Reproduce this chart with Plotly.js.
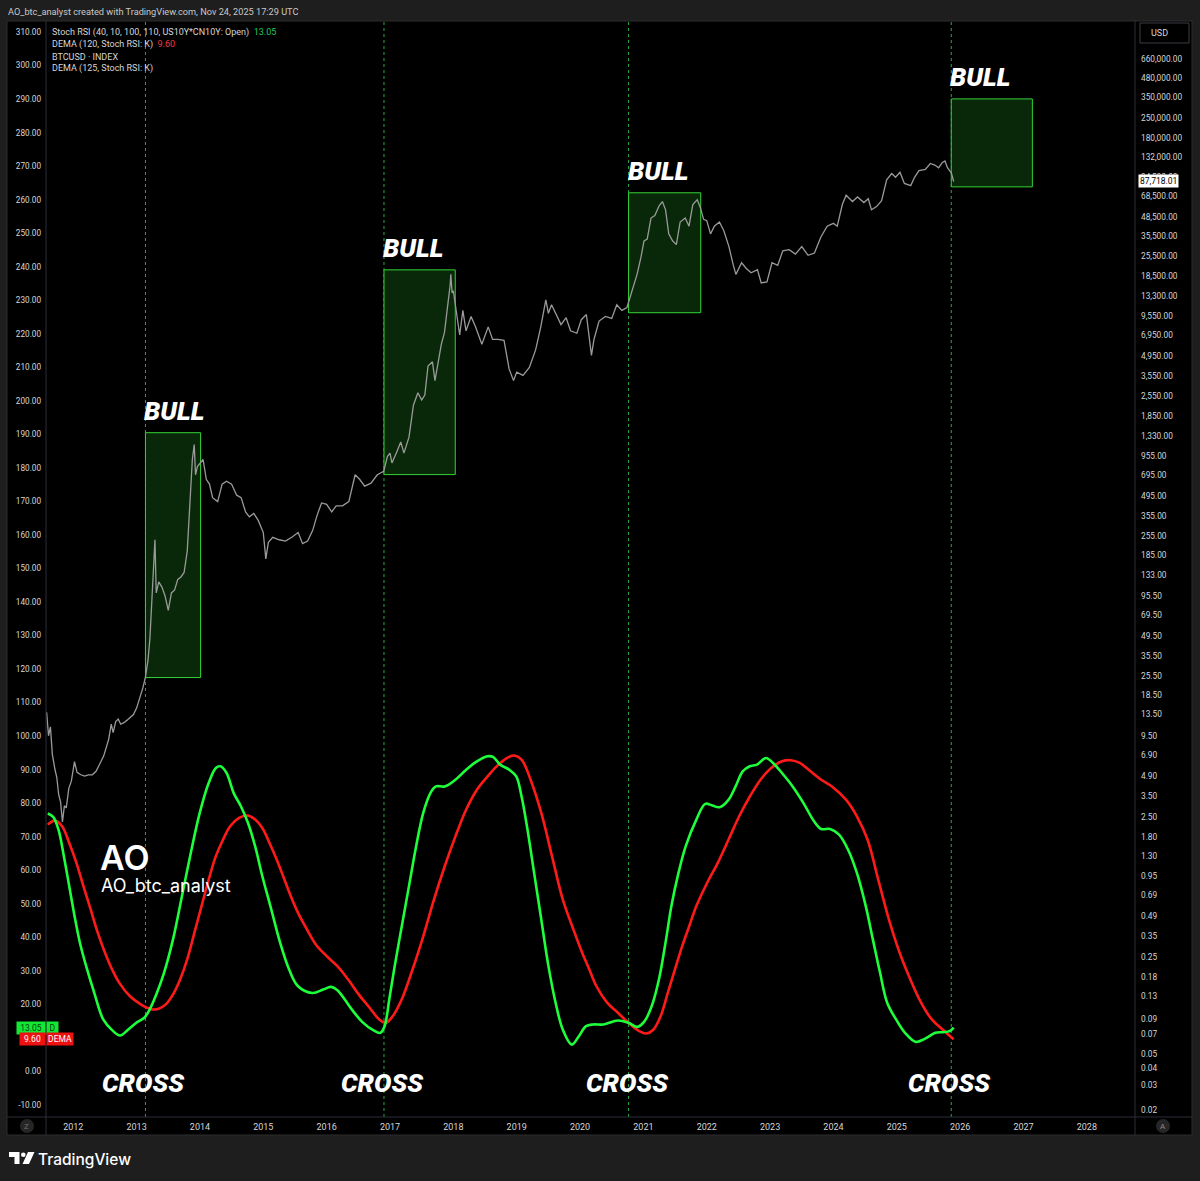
<!DOCTYPE html>
<html>
<head>
<meta charset="utf-8">
<script src="https://cdn.plot.ly/plotly-3.0.1.min.js"></script>
<style>
html,body{margin:0;padding:0;background:#1e1e1e;}
#chart{width:1200px;height:1181px;}
</style>
</head>
<body>
<div id="chart"></div>
<script>
// ---------------- DATA ----------------
const priceDates = [2011.58,2011.61,2011.64,2011.67,2011.71,2011.74,2011.77,2011.80,2011.83,2011.86,2011.89,2011.93,2011.97,
2012.02,2012.06,2012.12,2012.18,2012.24,2012.30,2012.36,2012.42,2012.48,2012.52,2012.56,2012.60,2012.63,2012.67,2012.71,2012.75,2012.80,2012.85,2012.90,2012.95,
2013.00,2013.05,2013.10,2013.14,2013.18,2013.21,2013.24,2013.27,2013.29,2013.31,2013.35,2013.40,2013.45,2013.50,2013.55,2013.60,2013.65,2013.70,2013.75,2013.80,2013.84,2013.88,2013.91,2013.93,2013.96,
2014.00,2014.05,2014.10,2014.15,2014.20,2014.28,2014.35,2014.42,2014.50,2014.58,2014.65,2014.72,2014.78,2014.85,2014.92,
2015.00,2015.04,2015.08,2015.15,2015.25,2015.35,2015.45,2015.55,2015.62,2015.70,2015.78,2015.85,2015.92,
2016.00,2016.08,2016.15,2016.25,2016.35,2016.45,2016.52,2016.60,2016.70,2016.80,2016.90,2016.96,
2017.00,2017.03,2017.10,2017.17,2017.22,2017.30,2017.37,2017.44,2017.50,2017.55,2017.60,2017.67,2017.71,2017.76,2017.81,2017.86,2017.90,2017.95,2017.96,2017.98,
2018.00,2018.05,2018.10,2018.15,2018.20,2018.28,2018.35,2018.45,2018.55,2018.62,2018.70,2018.80,2018.88,2018.95,
2019.00,2019.10,2019.20,2019.30,2019.38,2019.46,2019.50,2019.55,2019.62,2019.70,2019.78,2019.85,2019.95,
2020.02,2020.10,2020.18,2020.22,2020.30,2020.40,2020.50,2020.58,2020.66,2020.74,2020.80,2020.85,2020.90,2020.96,
2021.01,2021.06,2021.12,2021.18,2021.25,2021.30,2021.35,2021.40,2021.46,2021.52,2021.58,2021.66,2021.72,2021.78,2021.85,2021.90,2021.95,
2022.00,2022.06,2022.12,2022.20,2022.27,2022.35,2022.42,2022.46,2022.55,2022.62,2022.70,2022.80,2022.86,2022.95,
2023.03,2023.12,2023.20,2023.30,2023.40,2023.50,2023.60,2023.70,2023.80,2023.90,
2024.00,2024.06,2024.14,2024.20,2024.30,2024.38,2024.48,2024.55,2024.60,2024.68,2024.76,2024.84,2024.92,2024.98,
2025.05,2025.12,2025.22,2025.28,2025.35,2025.45,2025.53,2025.60,2025.66,2025.72,2025.76,2025.80,2025.86,2025.898];
const priceValues = [14.0,9.5,11.0,7.0,5.5,4.8,3.6,3.2,2.3,3.0,2.9,4.0,4.5,
6.2,5.2,5.0,4.9,5.0,5.0,5.3,6.0,6.8,7.8,9.0,11.5,10.0,12.0,12.5,11.5,11.8,12.3,13.0,13.5,
15.0,17.5,21.0,25.0,33,47,90,200,240,100,120,110,95,75,100,105,125,130,140,200,400,900,1150,700,800,
850,900,650,600,480,450,600,630,600,500,480,380,350,370,330,
270,175,230,250,240,235,250,270,225,235,280,360,440,
430,380,420,420,450,700,650,580,610,700,740,950,
1000,850,1000,1200,1000,1300,2200,2700,2400,2600,4200,4500,3300,4400,6000,7300,10000,16000,19000,14000,
14500,10000,7000,10500,7500,9500,8000,6000,8000,6500,6500,6400,4000,3300,
3800,3600,4100,5500,8000,12500,10000,11500,10000,8300,9300,7500,7200,
9000,9800,5000,6500,8800,9500,9200,11500,10500,11000,13500,16000,19000,25000,
33000,34000,48000,50000,59000,63000,55000,37000,33000,31000,45000,48000,42000,60000,65000,57000,47000,
46000,37000,42000,45000,39000,30000,22000,19000,23000,21000,19500,20500,16500,16800,
23000,22000,28000,28500,26500,30000,26000,27000,35000,42000,
44000,42000,60000,70000,63000,68000,62000,66000,55000,58000,64000,90000,100000,94000,
102000,85000,82000,94000,105000,107000,118000,115000,110000,120000,123000,110000,101000,87718.01];

// Stoch RSI K (green)
const kDates = [2011.598,2011.683,2011.767,2011.852,2011.937,2012.021,2012.106,2012.219,2012.332,2012.473,2012.614,2012.738,2012.868,
2013.009,2013.122,2013.207,2013.320,2013.433,2013.574,2013.715,2013.856,2013.997,2014.138,2014.251,2014.324,2014.420,2014.533,2014.646,2014.759,2014.872,2014.985,
2015.126,2015.267,2015.408,2015.549,2015.775,2015.945,2016.069,2016.170,2016.283,2016.396,2016.565,2016.735,2016.848,2016.915,2016.989,
2017.074,2017.186,2017.299,2017.412,2017.525,2017.638,2017.723,2017.864,2018.033,2018.203,2018.372,2018.541,2018.626,2018.739,2018.880,2018.993,
2019.077,2019.162,2019.275,2019.388,2019.501,2019.614,2019.727,2019.868,2019.981,2020.094,2020.206,
2020.372,2020.597,2020.766,2020.907,2021.019,2021.132,2021.245,2021.357,2021.442,2021.554,2021.667,2021.836,2021.977,
2022.089,2022.202,2022.343,2022.455,2022.568,2022.680,2022.793,2022.934,2023.046,2023.187,2023.356,2023.525,2023.694,2023.807,2023.947,
2024.088,2024.229,2024.370,2024.510,2024.623,2024.736,2024.848,2024.989,2025.130,2025.299,2025.439,2025.608,2025.721,2025.834,2025.898];
const kValues = [76.9,75.9,72.1,64.2,55.2,46.3,38.3,30.4,23.4,15.5,12.3,10.7,12.5,
14.7,16.0,18.5,23.4,29.4,39.3,52.2,65.2,77.1,86.0,90.5,91.0,89.0,83.0,79.1,74.1,67.1,58.2,
48.3,38.3,30.4,25.4,23.4,24.4,25.2,24.2,21.5,18.5,14.7,12.3,11.5,13.5,21.5,
31.4,43.3,55.2,67.1,77.1,83.0,85.0,85.0,87.0,90.0,92.5,94.0,93.8,91.5,90.0,88.0,
82.0,73.1,59.2,45.3,31.4,20.5,12.5,8.0,10.5,13.5,14.0,
14.0,15.2,14.5,13.3,15.0,19.5,27.4,39.3,49.3,59.2,67.1,75.1,79.8,
79.3,78.8,81.0,85.0,89.5,91.0,91.5,93.5,92.0,89.0,85.0,80.1,74.6,72.3,72.3,
70.6,66.2,59.2,49.3,39.3,29.4,20.5,15.5,11.5,8.8,9.7,11.5,11.7,12.0,13.05];

// DEMA of K (red)
const demaDates = [2011.598,2011.711,2011.824,2011.937,2012.050,2012.162,2012.275,2012.388,2012.501,2012.614,2012.727,2012.896,
2013.066,2013.235,2013.348,2013.461,2013.574,2013.687,2013.799,2013.912,2014.025,2014.138,2014.251,2014.364,2014.477,2014.618,2014.759,2014.872,2014.985,
2015.098,2015.211,2015.324,2015.436,2015.549,2015.691,2015.832,2016.001,2016.170,2016.340,2016.509,2016.678,2016.819,2016.932,
2017.045,2017.186,2017.356,2017.525,2017.695,2017.864,2018.033,2018.203,2018.372,2018.541,2018.711,2018.880,2018.965,
2019.077,2019.219,2019.388,2019.557,2019.727,2019.896,
2020.034,2020.147,2020.259,2020.428,2020.597,2020.766,2020.935,2021.048,2021.160,2021.273,2021.385,2021.498,2021.611,2021.723,2021.836,
2022.005,2022.174,2022.343,2022.512,2022.680,2022.849,2023.018,2023.187,2023.328,2023.469,2023.638,2023.807,2023.976,
2024.201,2024.370,2024.539,2024.707,2024.876,2025.045,2025.214,2025.383,2025.552,2025.721,2025.898];
const demaValues = [73.6,74.8,73.1,68.1,62.2,55.2,48.3,41.3,35.4,30.4,26.4,22.4,
20.0,18.5,18.7,20.0,22.9,27.4,33.4,41.3,49.3,57.2,64.2,69.1,73.1,75.6,76.3,75.1,72.6,
68.1,63.2,57.7,52.2,47.3,42.3,37.8,34.4,31.4,27.4,22.9,19.0,15.7,14.5,
16.5,21.5,30.4,40.3,51.3,61.2,70.1,78.1,84.0,88.0,91.5,93.8,94.2,
93.0,87.0,77.1,64.2,51.3,42.3,
35.4,30.4,25.4,20.5,17.5,14.5,12.0,11.3,12.5,16.5,23.4,30.4,37.3,43.3,49.3,
56.2,62.2,69.1,76.1,82.0,87.0,90.5,92.5,92.8,92.0,89.5,87.0,85.0,
81.0,76.1,69.1,57.2,45.3,35.4,27.4,20.5,15.5,12.5,9.60];

const crossDates = [2013.14, 2016.905, 2020.766, 2025.86];
const bullEnd    = [2014.01, 2018.03, 2021.905, 2027.14];
const bullLow    = [24.8, 702, 10100, 80300];
const bullHigh   = [1400, 20460, 72800, 341700];

const yearTicks = [2012,2013,2014,2015,2016,2017,2018,2019,2020,2021,2022,2023,2024,2025,2026,2027,2028];
// 10.00 is hidden behind the value badges in the original, so it is not listed
const oscTicks = [-10,0,20,30,40,50,60,70,80,90,100,110,120,130,140,150,160,170,180,190,200,210,220,230,240,250,260,270,280,290,300,310];
const priceTicks = [660000,480000,350000,250000,180000,132000,94500,68500,48500,35500,25500,18500,13300,9550,6950,4950,3550,2550,1850,1330,955,695,495,355,255,185,133,95.5,69.5,49.5,35.5,25.5,18.5,13.5,9.5,6.9,4.9,3.5,2.5,1.8,1.3,0.95,0.69,0.49,0.35,0.25,0.18,0.13,0.09,0.07,0.05,0.04,0.03,0.02];

const lastPrice = 87718.01, lastK = 13.05, lastDema = 9.60;

// ---------------- HELPERS ----------------
const L = 46, R = 1135, T = 21, B = 1117;
const px = x => (x - L) / (R - L);
const py = y => (B - y) / (B - T);
const fmt = v => v.toLocaleString('en-US', {minimumFractionDigits: 2, maximumFractionDigits: 2});
const FONT = 'Roboto, "Liberation Sans", sans-serif';
const AXC = '#d6d6d6';
const SEP = '#2a2e39';

// ---------------- TRACES ----------------
const traces = [
  {x: priceDates, y: priceValues, yaxis: 'y2', type: 'scatter', mode: 'lines',
   line: {color: '#9a9a9a', width: 1.3}, hoverinfo: 'skip'},
  {x: demaDates, y: demaValues, yaxis: 'y', type: 'scatter', mode: 'lines',
   line: {color: '#ff1a1a', width: 2.6, shape: 'spline', smoothing: 1}, hoverinfo: 'skip'},
  {x: kDates, y: kValues, yaxis: 'y', type: 'scatter', mode: 'lines',
   line: {color: '#1eff3c', width: 2.6, shape: 'spline', smoothing: 1}, hoverinfo: 'skip'}
];

// ---------------- SHAPES ----------------
const shapes = [];
shapes.push({type: 'rect', xref: 'paper', yref: 'paper', x0: px(7), x1: px(1192), y0: py(1135), y1: py(21),
  fillcolor: '#000000', line: {color: '#2c2c2c', width: 1}, layer: 'below'});
for (let i = 0; i < crossDates.length; i++) {
  shapes.push({type: 'rect', xref: 'x', yref: 'y2', x0: crossDates[i], x1: bullEnd[i], y0: bullLow[i], y1: bullHigh[i],
    fillcolor: '#092809', line: {color: '#35d335', width: 1}, layer: 'below'});
}
crossDates.forEach(d => shapes.push({type: 'line', xref: 'x', yref: 'paper', x0: d, x1: d, y0: 0, y1: 1,
  line: {color: '#28a83c', width: 1, dash: 'dot'}, layer: 'below'}));
shapes.push({type: 'line', xref: 'paper', yref: 'paper', x0: px(46), x1: px(46), y0: py(1135), y1: py(21), line: {color: SEP, width: 1}});
shapes.push({type: 'line', xref: 'paper', yref: 'paper', x0: px(1135), x1: px(1135), y0: py(1135), y1: py(21), line: {color: SEP, width: 1}});
shapes.push({type: 'line', xref: 'paper', yref: 'paper', x0: px(7), x1: px(1192), y0: py(1117), y1: py(1117), line: {color: SEP, width: 1}});
shapes.push({type: 'circle', xref: 'paper', yref: 'paper', x0: px(20), x1: px(34), y0: py(1133), y1: py(1119), fillcolor: '#262626', line: {width: 0}});
shapes.push({type: 'circle', xref: 'paper', yref: 'paper', x0: px(1156), x1: px(1170), y0: py(1133), y1: py(1119), fillcolor: '#262626', line: {width: 0}});
shapes.push({type: 'rect', xref: 'paper', yref: 'paper', x0: px(1140), x1: px(1189), y0: py(43), y1: py(23),
  fillcolor: '#000', line: {color: '#3a3d45', width: 1}});
const P = (x, y) => px(x).toFixed(5) + ',' + py(y).toFixed(5);
shapes.push({type: 'path', xref: 'paper', yref: 'paper', fillcolor: '#ffffff', line: {width: 0},
  path: 'M' + P(9,1152) + 'L' + P(19.5,1152) + 'L' + P(19.5,1164) + 'L' + P(14.5,1164) + 'L' + P(14.5,1157) + 'L' + P(9,1157) + 'Z'});
shapes.push({type: 'circle', xref: 'paper', yref: 'paper', fillcolor: '#ffffff', line: {width: 0},
  x0: px(21), x1: px(25.6), y0: py(1157), y1: py(1152.4)});
shapes.push({type: 'path', xref: 'paper', yref: 'paper', fillcolor: '#ffffff', line: {width: 0},
  path: 'M' + P(28,1152) + 'L' + P(34.5,1152) + 'L' + P(29,1164) + 'L' + P(22.5,1164) + 'Z'});

// ---------------- ANNOTATIONS ----------------
const ann = [];
const txt = (x, y, text, size, color, opts) => Object.assign({xref: 'paper', yref: 'paper', x: px(x), y: py(y), text: text,
  showarrow: false, xanchor: 'left', yanchor: 'middle', font: {family: FONT, size: size, color: color}}, opts || {});

ann.push(txt(6, 11, 'AO_btc_analyst created with TradingView.com, Nov 24, 2025 17:29 UTC', 9.2, '#c8c8c8'));
ann.push(txt(50, 32, 'Stoch RSI (40, 10, 100, 110, US10Y*CN10Y: Open)  <span style="color:#22c55e">' + lastK.toFixed(2) + '</span>', 9, AXC));
ann.push(txt(50, 44, 'DEMA (120, Stoch RSI: K)  <span style="color:#f23645">' + lastDema.toFixed(2) + '</span>', 9, AXC));
ann.push(txt(50, 57, 'BTCUSD · INDEX', 9, AXC));
ann.push(txt(50, 69, 'DEMA (125, Stoch RSI: K)', 9, AXC));

for (let i = 0; i < crossDates.length; i++) {
  ann.push({xref: 'x', yref: 'y2', x: crossDates[i], y: Math.log10(bullHigh[i]), xanchor: 'left', yanchor: 'bottom',
    yshift: 5, xshift: -3, showarrow: false, text: 'BULL',
    font: {family: 'Roboto', size: 26, color: '#ffffff', weight: 900, style: 'italic'}});
  ann.push({xref: 'x', yref: 'paper', x: crossDates[i], y: py(1083), xanchor: 'center', yanchor: 'middle',
    xshift: -2, showarrow: false, text: 'CROSS',
    font: {family: 'Roboto', size: 26, color: '#ffffff', weight: 900, style: 'italic'}});
}
ann.push(txt(98, 858, 'AO', 33, '#ffffff', {font: {family: 'Inter', size: 34, color: '#ffffff', weight: 600}}));
ann.push(txt(99, 885, 'AO_btc_analyst', 18, '#ffffff', {font: {family: 'Inter', size: 18, color: '#ffffff', weight: 400}}));

ann.push(txt(1149, 33, 'USD', 9, AXC));
ann.push(txt(27, 1126, 'Z', 8, '#6e6e6e', {xanchor: 'center'}));
ann.push(txt(1163, 1126, 'A', 8, '#8a8a8a', {xanchor: 'center'}));
ann.push({xref: 'paper', yref: 'y2', x: 1, y: Math.log10(lastPrice), xanchor: 'left', yanchor: 'middle', xshift: 3,
  showarrow: false, text: fmt(lastPrice), bgcolor: '#ffffff', borderpad: 1,
  font: {family: FONT, size: 8.5, color: '#000000'}});
ann.push({xref: 'paper', yref: 'y', x: px(46), y: lastK, xanchor: 'right', yanchor: 'middle', showarrow: false,
  text: lastK.toFixed(2), bgcolor: '#12e834', borderpad: 1, width: 26, font: {family: FONT, size: 8.5, color: '#0b3d12'}});
ann.push({xref: 'paper', yref: 'y', x: px(46), y: lastK, xanchor: 'left', yanchor: 'middle', showarrow: false,
  text: 'D', bgcolor: '#12e834', borderpad: 1, width: 9, font: {family: FONT, size: 8.5, color: '#0b3d12'}});
ann.push({xref: 'paper', yref: 'y', x: px(46), y: lastDema, xanchor: 'right', yanchor: 'middle', showarrow: false,
  text: lastDema.toFixed(2), bgcolor: '#ee1111', borderpad: 1, width: 23, font: {family: FONT, size: 8.5, color: '#ffffff'}});
ann.push({xref: 'paper', yref: 'y', x: px(46), y: lastDema, xanchor: 'left', yanchor: 'middle', showarrow: false,
  text: 'DEMA', bgcolor: '#ee1111', borderpad: 1, width: 24, font: {family: FONT, size: 8.5, color: '#ffffff'}});
ann.push(txt(36, 1159, 'TradingView', 15.5, '#ffffff', {font: {family: 'Inter', size: 15.5, color: '#ffffff', weight: 500}}));

// ---------------- LAYOUT ----------------
const layout = {
  width: 1200, height: 1181,
  margin: {l: L, r: 1200 - R, t: T, b: 1181 - B, pad: 0},
  paper_bgcolor: '#1e1e1e', plot_bgcolor: 'rgba(0,0,0,0)',
  showlegend: false,
  xaxis: {range: [2011.57, 2028.76], tickvals: yearTicks, ticktext: yearTicks.map(String),
    showgrid: false, zeroline: false, showline: false, ticks: '', fixedrange: true, ticklabelstandoff: 3,
    tickfont: {family: FONT, size: 9, color: AXC}},
  yaxis: {range: [-13.6, 313.3], tickvals: oscTicks, ticktext: oscTicks.map(v => v.toFixed(2)),
    showgrid: false, zeroline: false, showline: false, ticks: '', fixedrange: true, ticklabelstandoff: 4,
    tickfont: {family: FONT, size: 8.2, color: AXC}},
  yaxis2: {type: 'log', overlaying: 'y', side: 'right', range: [-1.749, 6.091],
    tickvals: priceTicks, ticktext: priceTicks.map(fmt),
    showgrid: false, zeroline: false, showline: false, ticks: '', fixedrange: true, ticklabelstandoff: 5,
    tickfont: {family: FONT, size: 8.3, color: AXC}},
  shapes: shapes,
  annotations: ann
};

Plotly.newPlot('chart', traces, layout, {staticPlot: true, displayModeBar: false});
</script>
</body>
</html>
